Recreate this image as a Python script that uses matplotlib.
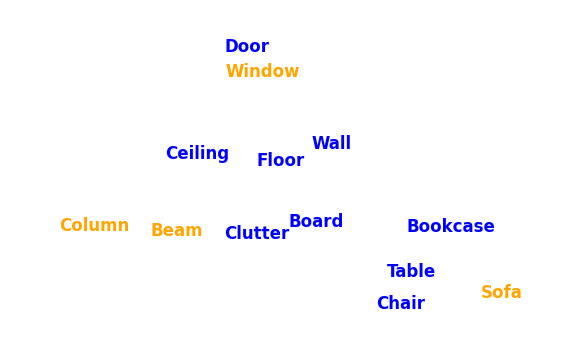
import matplotlib
matplotlib.use("Agg")
import matplotlib.pyplot as plt

# 2-D embedding of class labels
labels = ["Door", "Window", "Ceiling", "Floor", "Wall", "Column", "Beam",
          "Clutter", "Board", "Bookcase", "Table", "Chair", "Sofa"]
xs = [225, 225, 165, 256, 312, 59, 151, 224, 288, 407, 387, 376, 481]
ys = [47, 72, 154, 161, 144, 226, 231, 234, 222, 227, 272, 304, 293]
groups = ["a", "b", "a", "a", "a", "b", "b", "a", "a", "a", "a", "a", "b"]
group_colors = {"a": "blue", "b": "orange"}

fig = plt.figure(figsize=(5.62, 3.58), dpi=100)
ax = fig.add_axes([0, 0, 1, 1])
ax.set_xlim(0, 562)
ax.set_ylim(358, 0)
ax.axis("off")

for lab, x, y, g in zip(labels, xs, ys, groups):
    ax.text(x, y, lab, color=group_colors[g], fontsize=12, fontweight="bold",
            ha="left", va="center")

fig.savefig("out.png", dpi=100)
